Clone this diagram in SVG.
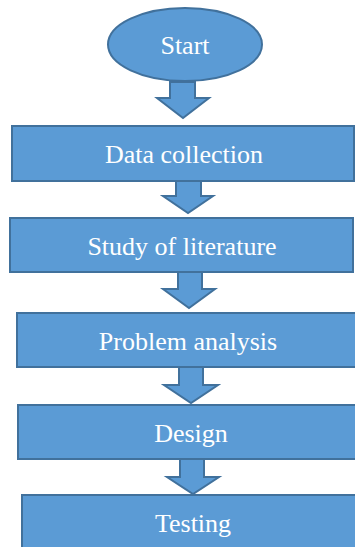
<svg xmlns="http://www.w3.org/2000/svg" width="355" height="547" viewBox="0 0 355 547">
<style>
.n{fill:#5B9BD5;stroke:#41719C;stroke-width:2}
.a{fill:#5B9BD5;stroke:#41719C;stroke-width:2;stroke-linejoin:miter}
.t{font-family:'Liberation Serif','Times New Roman','DejaVu Serif',serif;font-size:26px;fill:#ffffff;text-anchor:middle}
</style>
<rect width="355" height="547" fill="#ffffff"/>
<g id="connectors">
<path class="a" d="M170,82 H195 V98 H209 L183,118 L157,98 H170 Z"/>
<path class="a" d="M176,181 H201 V196 H213 L188,213 L163,196 H176 Z"/>
<path class="a" d="M178,272 H202 V289 H215 L189,308 L163,289 H178 Z"/>
<path class="a" d="M179,367 H203 V385 H218 L191,403 L164,385 H179 Z"/>
<path class="a" d="M180,459 H204 V477 H219 L193,494 L167,477 H180 Z"/>
</g>
<g id="start">
<ellipse class="n" cx="185" cy="44.5" rx="77" ry="36.5"/>
<text class="t" x="185" y="54" font-family="Liberation Serif, serif">Start</text>
</g>
<g id="data-collection">
<rect class="n" x="12" y="126" width="342" height="55"/>
<text class="t" x="184" y="163" font-family="Liberation Serif, serif">Data collection</text>
</g>
<g id="study-of-literature">
<rect class="n" x="10" y="218" width="343" height="54"/>
<text class="t" x="182" y="255" font-family="Liberation Serif, serif">Study of literature</text>
</g>
<g id="problem-analysis">
<rect class="n" x="17" y="313" width="345" height="54"/>
<text class="t" x="188" y="350" font-family="Liberation Serif, serif">Problem analysis</text>
</g>
<g id="design">
<rect class="n" x="18" y="405" width="345" height="54"/>
<text class="t" x="191" y="442" font-family="Liberation Serif, serif">Design</text>
</g>
<g id="testing">
<rect class="n" x="22" y="495" width="345" height="60"/>
<text class="t" x="193" y="532" font-family="Liberation Serif, serif">Testing</text>
</g>
</svg>
